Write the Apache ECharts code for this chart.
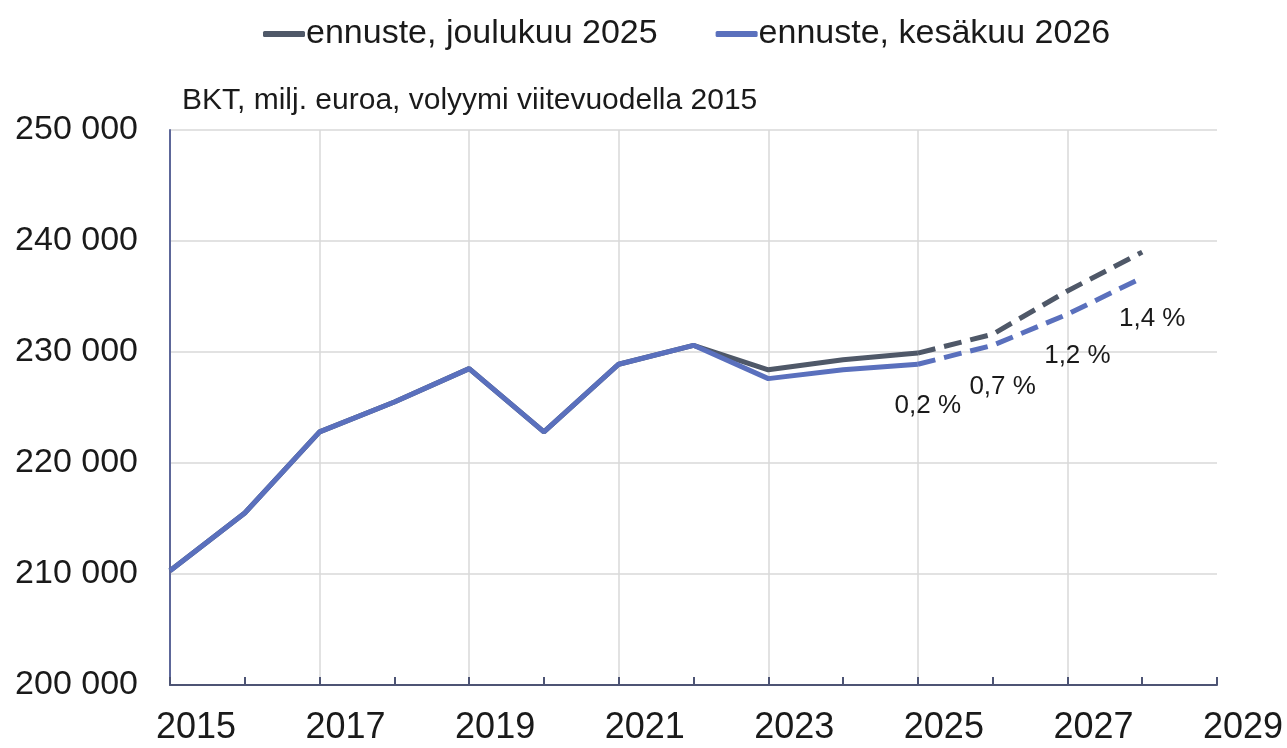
<!DOCTYPE html>
<html>
<head>
<meta charset="utf-8">
<script src="https://cdn.jsdelivr.net/npm/echarts@6/dist/echarts.min.js"></script>
<style>
  html, body { margin: 0; padding: 0; background: #fff; }
  #main { width: 1287px; height: 748px; }
</style>
</head>
<body>
<div id="main"></div>
<script>
// vuodet ja BKT (milj. euroa)
const years = [2015, 2016, 2017, 2018, 2019, 2020, 2021, 2022, 2023, 2024, 2025, 2026, 2027, 2028];
const forecastDec2025 = [210300, 215500, 222800, 225500, 228500, 222800, 228900, 230600, 228400, 229300, 229900, 231600, 235500, 239000];
const forecastJun2026 = [210300, 215500, 222800, 225500, 228500, 222800, 228900, 230600, 227600, 228400, 228900, 230600, 233400, 236700];
const growthLabels = ['0,2 %', '0,7 %', '1,2 %', '1,4 %'];
const seriesNames = ['ennuste, joulukuu 2025', 'ennuste, kesäkuu 2026'];
const yTicks = [200000, 210000, 220000, 230000, 240000, 250000];
const lastActualYear = 2025;

const font = 'Liberation Sans, Arial, sans-serif';
const grayColor = '#4f5868';
const blueColor = '#5a70bd';

// toteutunut osa ja ennusteosa erikseen
const solidPart = (vals) => years.map((y, i) => y <= lastActualYear ? [y, vals[i]] : null).filter(Boolean);
const dashedPart = (vals) => years.map((y, i) => y >= lastActualYear ? [y, vals[i]] : null).filter(Boolean);

const fmtThousands = (v) => String(v).replace(/\B(?=(\d{3})+(?!\d))/g, ' ');

let myChart = echarts.init(document.getElementById('main'));

const lineBase = {
  type: 'line',
  showSymbol: false,
  silent: true,
  z: 2
};

myChart.setOption({
  animation: false,
  textStyle: { fontFamily: font },
  title: {
    text: 'BKT, milj. euroa, volyymi viitevuodella 2015',
    left: 177,
    top: 81,
    textStyle: { fontSize: 30, fontWeight: 'normal', color: '#1a1a1a', fontFamily: font }
  },
  legend: {
    data: seriesNames,
    left: 258,
    top: 12,
    itemGap: 58,
    itemWidth: 42,
    itemHeight: 6,
    icon: 'roundRect',
    textStyle: { fontSize: 34, color: '#1a1a1a', fontFamily: font, padding: [0, 0, 0, -4] }
  },
  grid: {
    left: 170,
    right: 70,
    top: 130,
    bottom: 63,
    containLabel: false
  },
  xAxis: {
    type: 'value',
    min: 2015,
    max: 2029,
    interval: 2,
    axisLine: { show: true, lineStyle: { color: '#4d5474', width: 2 } },
    axisTick: { show: true, inside: true, length: 8, lineStyle: { color: '#4d5474', width: 2 } },
    minorTick: { show: true, splitNumber: 2, length: 8, lineStyle: { color: '#4d5474', width: 2 } },
    axisLabel: {
      fontSize: 36,
      color: '#1a1a1a',
      margin: 25,
      padding: [0, 0, 0, 52],
      showMinLabel: true,
      showMaxLabel: true,
      hideOverlap: false,
      formatter: (v) => String(v)
    },
    splitLine: {
      show: true,
      showMinLine: false,
      showMaxLine: false,
      lineStyle: { color: '#d9d9d9', width: 1.5 }
    }
  },
  yAxis: {
    type: 'value',
    min: yTicks[0],
    max: yTicks[yTicks.length - 1],
    interval: 10000,
    axisLine: { show: true, lineStyle: { color: '#5d6799', width: 2 } },
    axisTick: { show: false },
    axisLabel: {
      fontSize: 34,
      color: '#1a1a1a',
      margin: 32,
      formatter: fmtThousands
    },
    splitLine: { show: true, lineStyle: { color: '#d9d9d9', width: 1.5 } }
  },
  series: [
    {
      ...lineBase,
      name: seriesNames[0],
      data: solidPart(forecastDec2025),
      itemStyle: { color: grayColor },
      lineStyle: { color: grayColor, width: 5 }
    },
    {
      ...lineBase,
      name: seriesNames[0],
      data: dashedPart(forecastDec2025),
      itemStyle: { color: grayColor },
      lineStyle: { color: grayColor, width: 5, type: [18, 9] }
    },
    {
      ...lineBase,
      name: seriesNames[1],
      z: 3,
      data: solidPart(forecastJun2026),
      itemStyle: { color: blueColor },
      lineStyle: { color: blueColor, width: 5 }
    },
    {
      ...lineBase,
      name: seriesNames[1],
      z: 3,
      showSymbol: true,
      symbol: 'circle',
      symbolSize: 1,
      data: dashedPart(forecastJun2026),
      itemStyle: { color: 'rgba(0,0,0,0)' },
      lineStyle: { color: blueColor, width: 5, type: [18, 9] },
      label: {
        show: true,
        position: 'bottom',
        distance: 28,
        offset: [10, 0],
        fontSize: 26,
        color: '#1a1a1a',
        fontFamily: font,
        formatter: (p) => growthLabels[p.dataIndex]
      }
    }
  ]
});
</script>
</body>
</html>
